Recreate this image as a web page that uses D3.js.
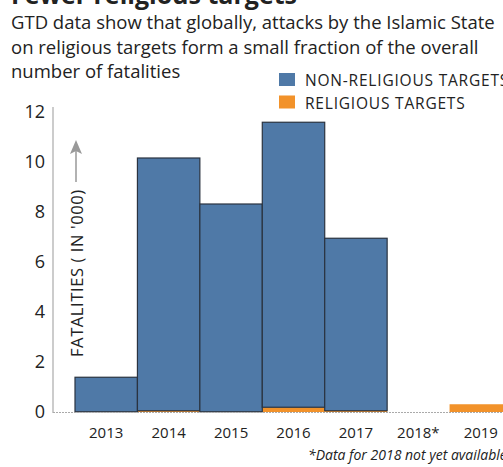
<!DOCTYPE html>
<html>
<head>
<meta charset="utf-8">
<script src="https://cdn.jsdelivr.net/npm/d3@7"></script>
<style>
  body { margin: 0; background: #fff; }
  svg { display: block; font-family: "Open Sans", "Noto Sans", sans-serif; }
</style>
</head>
<body>
<div id="chart"></div>
<script>
// data (thousands of fatalities)
const years = ['2013', '2014', '2015', '2016', '2017', '2018*', '2019'];
const religious = [0.01, 0.05, 0.01, 0.19, 0.05, 0, 0.31];
const nonReligious = [1.38, 10.11, 8.31, 11.40, 6.90, 0, 0];
const yTicks = [0, 2, 4, 6, 8, 10, 12];
const seriesNames = ['NON-RELIGIOUS TARGETS', 'RELIGIOUS TARGETS'];
const colors = { nonReligious: '#4f79a7', religious: '#f2922a' };

const svgWidth = 503, svgHeight = 467;
const svg = d3.select('#chart').append('svg')
    .attr('width', svgWidth)
    .attr('height', svgHeight);

// title (cut off at top) + subtitle
svg.append('text')
    .attr('x', 11).attr('y', 4)
    .attr('font-size', 25).attr('font-weight', 'bold').attr('fill', '#222')
    .text('Fewer religious targets');

const subLines = [
    'GTD data show that globally, attacks by the Islamic State',
    'on religious targets form a small fraction of the overall',
    'number of fatalities'
];
svg.selectAll('.sub').data(subLines).enter().append('text')
    .attr('class', 'sub')
    .attr('x', 11)
    .attr('y', (d, i) => 29 + i * 24.5)
    .attr('font-size', 18.5)
    .attr('fill', '#222')
    .text(d => d);

const x = d3.scaleBand().domain(years).range([75, 512]).padding(0);
const y = d3.scaleLinear().domain([0, 12]).range([412, 112]);

// y axis
svg.append('line')
    .attr('x1', 53).attr('x2', 53)
    .attr('y1', 107).attr('y2', 413)
    .attr('stroke', '#999').attr('stroke-width', 1);

svg.selectAll('.ytick').data(yTicks).enter().append('text')
    .attr('class', 'ytick')
    .attr('x', 45)
    .attr('y', d => y(d))
    .attr('dy', '0.35em')
    .attr('text-anchor', 'end')
    .attr('font-size', 18)
    .attr('fill', '#222')
    .text(d => d);

// stacked bars
const stackData = years.map((yr, i) => ({ year: yr, religious: religious[i], nonReligious: nonReligious[i] }));
const stack = d3.stack().keys(['religious', 'nonReligious']);
const layers = stack(stackData);

layers.forEach(layer => {
    svg.append('g').selectAll('rect')
        .data(layer.filter(d => d[1] - d[0] > 0))
        .enter().append('rect')
        .attr('x', d => x(d.data.year))
        .attr('width', x.bandwidth())
        .attr('y', d => y(d[1]))
        .attr('height', d => y(d[0]) - y(d[1]))
        .attr('fill', colors[layer.key])
        .attr('stroke', layer.key === 'nonReligious' ? '#2a3340' : 'none')
        .attr('stroke-width', layer.key === 'nonReligious' ? 1.2 : 0);
});

// dotted baseline
svg.append('line')
    .attr('x1', 53).attr('x2', svgWidth)
    .attr('y1', 412.5).attr('y2', 412.5)
    .attr('stroke', '#aaa').attr('stroke-width', 1.2)
    .attr('stroke-dasharray', '2,1');

// x labels
svg.selectAll('.xlab').data(years).enter().append('text')
    .attr('class', 'xlab')
    .attr('x', d => x(d) + x.bandwidth() / 2)
    .attr('y', 438)
    .attr('text-anchor', 'middle')
    .attr('font-size', 15)
    .attr('fill', '#222')
    .text(d => d);

// y label with arrow
svg.append('text')
    .attr('transform', 'translate(83,357) rotate(-90)')
    .attr('font-size', 16.5)
    .attr('letter-spacing', 0.6)
    .attr('fill', '#222')
    .text("FATALITIES ( IN '000)");

svg.append('line')
    .attr('x1', 76).attr('x2', 76)
    .attr('y1', 182).attr('y2', 148)
    .attr('stroke', '#999').attr('stroke-width', 1.5);
svg.append('path')
    .attr('d', 'M70,154 L76,140 L82,154 L76,151 Z')
    .attr('fill', '#999');

// legend
const legend = svg.append('g');
const legendColors = [colors.nonReligious, colors.religious];
seriesNames.forEach((name, i) => {
    legend.append('rect')
        .attr('x', 279).attr('y', 73 + i * 22.5)
        .attr('width', 16).attr('height', 13)
        .attr('fill', legendColors[i]);
    legend.append('text')
        .attr('x', 305).attr('y', 86 + i * 22.5)
        .attr('font-size', 15.5)
        .attr('letter-spacing', 0.8)
        .attr('fill', '#222')
        .text(name);
});

// footnote
svg.append('text')
    .attr('x', 308).attr('y', 460)
    .attr('font-size', 14)
    .attr('font-style', 'italic')
    .attr('fill', '#222')
    .text('*Data for 2018 not yet available');
</script>
</body>
</html>
